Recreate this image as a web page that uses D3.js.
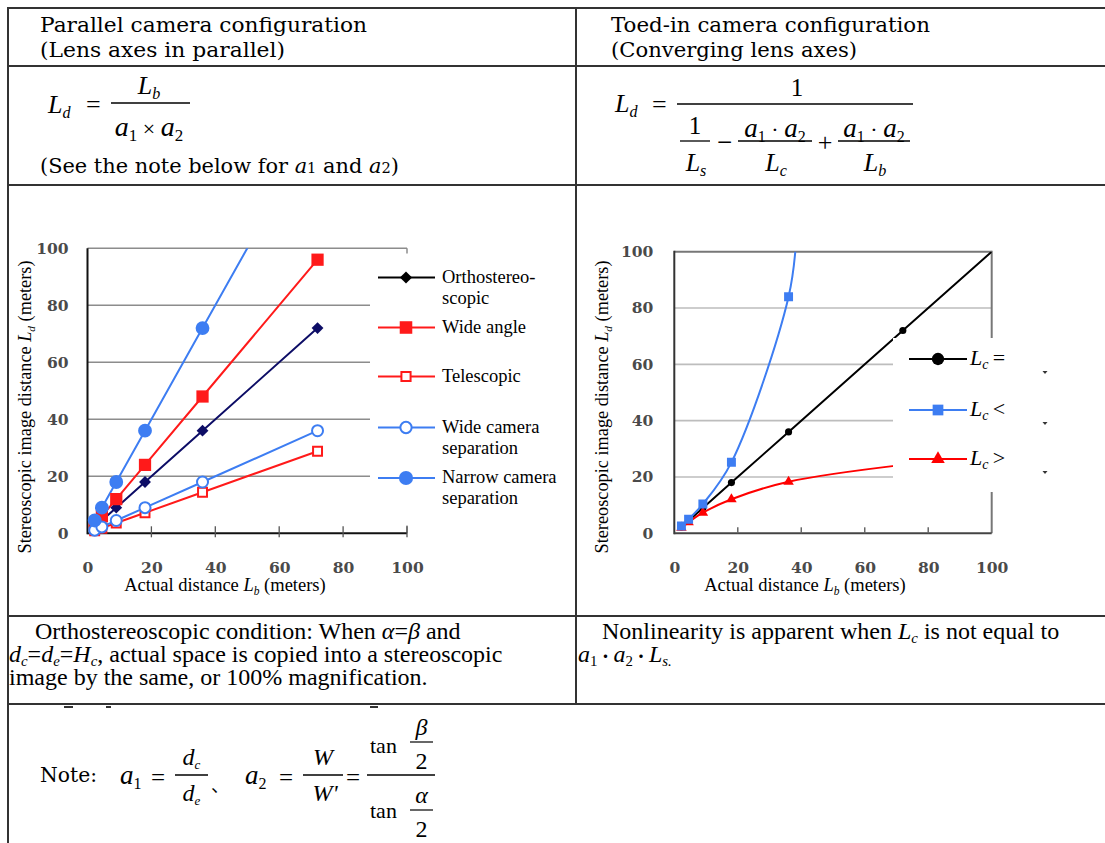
<!DOCTYPE html>
<html><head><meta charset="utf-8">
<script src="https://cdn.jsdelivr.net/npm/d3@7"></script>
<style>body{margin:0;background:#fff}svg{display:block}</style>
</head><body>
<script>
// ---------------- DATA ----------------
// Left chart (parallel configuration): actual distance Lb vs stereoscopic image distance Ld
const leftLb = [2.25, 4.5, 9, 18, 36, 72];
const orthoLd = [2.25, 4.5, 9, 18, 36, 72];
const wideAngleLd = [3, 6, 12, 24, 48, 96];
const telescopicLd = [0.9, 1.8, 3.6, 7.2, 14.4, 28.8];
const wideSepLd = [1.1, 2.25, 4.5, 9, 18, 36];
const narrowSepLd = [4.5, 9, 18, 36, 72, 144];
const leftNames = [["Orthostereo-", "scopic"], ["Wide angle"], ["Telescopic"], ["Wide camera", "separation"], ["Narrow camera", "separation"]];

// Right chart (toed-in configuration)
const lcEqualLb = [2.25, 4.5, 9, 18, 36, 72, 100];
const lcEqualLd = [2.25, 4.5, 9, 18, 36, 72, 100];
const lcEqualMarked = [true, true, true, true, true, true, false];
const lcLessLb = [2.25, 4.5, 9, 18, 36, 38.6];
const lcLessLd = [2.6, 5.0, 10.4, 25.2, 84, 108];
const lcLessMarked = [true, true, true, true, true, false];
const lcGreaterLb = [2.25, 4.5, 9, 18, 36, 72];
const lcGreaterLd = [2.0, 3.9, 7.3, 12.1, 18.3, 24.3];
const lcGreaterMarked = [true, true, true, true, true, true];
const rightNames = ["=", "<", ">"];

const axisTicks = [0, 20, 40, 60, 80, 100];
const gridTicks = [20, 40, 60, 80, 100];

// ---------------- HELPERS ----------------
const svg = d3.select("body").append("svg").attr("width", 1105).attr("height", 843);
const SERIF = "Liberation Serif, Times New Roman, serif";
const CENT = "DejaVu Serif, serif";

function rich(parent, x, y, segs, o = {}) {
  const size = o.size || 20;
  const t = parent.append("text").attr("x", x).attr("y", y)
    .attr("font-family", o.family || SERIF).attr("font-size", size)
    .attr("text-anchor", o.anchor || "start").attr("fill", "#000");
  let off = 0;
  segs.forEach(s => {
    if (typeof s === "string") s = { t: s };
    const target = s.sub ? (s.shift != null ? s.shift : size * 0.22) : 0;
    const ts = t.append("tspan").text(s.t).attr("dy", target - off);
    off = target;
    if (s.i) ts.attr("font-style", "italic");
    if (s.sub) ts.attr("font-size", s.size || size * 0.62);
    else if (s.size) ts.attr("font-size", s.size);
    if (s.family) ts.attr("font-family", s.family);
  });
  if (o.width) t.attr("textLength", o.width).attr("lengthAdjust", "spacingAndGlyphs");
  return t;
}
function hline(g, x1, x2, y, w = 1.3, c = "#000") {
  g.append("line").attr("x1", x1).attr("x2", x2).attr("y1", y).attr("y2", y).attr("stroke", c).attr("stroke-width", w);
}
function vline(g, x, y1, y2, w = 1.3, c = "#000") {
  g.append("line").attr("x1", x).attr("x2", x).attr("y1", y1).attr("y2", y2).attr("stroke", c).attr("stroke-width", w);
}

// ---------------- TABLE ----------------
const tbl = svg.append("g");
[8, 66, 185, 616, 704].forEach(y => hline(tbl, 7, 1105, y, 2, "#333"));
vline(tbl, 8, 7, 843, 2, "#333");
vline(tbl, 576, 7, 704, 2, "#333");
[[64, 9], [106, 5], [370, 8]].forEach(([x, w]) => tbl.append("rect").attr("x", x).attr("y", 706).attr("width", w).attr("height", 2).attr("fill", "#333"));

// Headers
rich(tbl, 40, 32, ["Parallel camera configuration"], { family: CENT, size: 20, width: 327 });
rich(tbl, 40, 57, ["(Lens axes in parallel)"], { family: CENT, size: 20, width: 245 });
rich(tbl, 611, 32, ["Toed-in camera configuration"], { family: CENT, size: 20, width: 319 });
rich(tbl, 611, 57, ["(Converging lens axes)"], { family: CENT, size: 20, width: 246 });

// Left formula
const fL = svg.append("g");
rich(fL, 48, 113, [{ t: "L", i: 1 }, { t: "d", i: 1, sub: 1, shift: 5 }], { size: 26 });
rich(fL, 86, 113, ["="], { size: 26 });
hline(fL, 111, 190, 103, 1.4);
rich(fL, 149, 94, [{ t: "L", i: 1 }, { t: "b", i: 1, sub: 1, shift: 5 }], { size: 26, anchor: "middle" });
rich(fL, 149, 136, [{ t: "a", i: 1, size: 28 }, { t: "1", sub: 1, shift: 5, size: 17 }, { t: " × ", size: 22 }, { t: "a", i: 1, size: 28 }, { t: "2", sub: 1, shift: 5, size: 17 }], { size: 26, anchor: "middle" });
rich(fL, 40, 173, ["(See the note below for ", { t: "a", i: 1 }, { t: "1", size: 14 }, " and ", { t: "a", i: 1 }, { t: "2", size: 14 }, ")"], { family: CENT, size: 20, width: 359 });

// Right formula
const fR = svg.append("g");
rich(fR, 615, 112, [{ t: "L", i: 1 }, { t: "d", i: 1, sub: 1, shift: 5 }], { size: 26 });
rich(fR, 652, 113, ["="], { size: 26 });
hline(fR, 677, 913, 104, 1.4);
rich(fR, 797, 96, ["1"], { size: 25, anchor: "middle" });
hline(fR, 680, 710, 141, 1.3);
rich(fR, 695, 134, ["1"], { size: 25, anchor: "middle" });
rich(fR, 696, 171, [{ t: "L", i: 1 }, { t: "s", i: 1, sub: 1, shift: 5 }], { size: 26, anchor: "middle" });
rich(fR, 724.5, 151, ["−"], { size: 27, anchor: "middle" });
hline(fR, 738, 812, 141, 1.3);
rich(fR, 775, 137, [{ t: "a", i: 1, size: 27 }, { t: "1", sub: 1, shift: 5, size: 16 }, { t: " · ", size: 22 }, { t: "a", i: 1, size: 27 }, { t: "2", sub: 1, shift: 5, size: 16 }], { size: 26, anchor: "middle" });
rich(fR, 776, 171, [{ t: "L", i: 1 }, { t: "c", i: 1, sub: 1, shift: 5 }], { size: 26, anchor: "middle" });
rich(fR, 825, 151, ["+"], { size: 26, anchor: "middle" });
hline(fR, 838, 910, 141, 1.3);
rich(fR, 874, 137, [{ t: "a", i: 1, size: 27 }, { t: "1", sub: 1, shift: 5, size: 16 }, { t: " · ", size: 22 }, { t: "a", i: 1, size: 27 }, { t: "2", sub: 1, shift: 5, size: 16 }], { size: 26, anchor: "middle" });
rich(fR, 875, 171, [{ t: "L", i: 1 }, { t: "b", i: 1, sub: 1, shift: 5 }], { size: 26, anchor: "middle" });

// Paragraphs
const pg = svg.append("g");
rich(pg, 35, 639, ["Orthostereoscopic condition: When ", { t: "α", i: 1 }, "=", { t: "β", i: 1 }, " and"], { size: 24 });
rich(pg, 9, 662, [{ t: "d", i: 1 }, { t: "c", i: 1, sub: 1, shift: 4 }, { t: "=" }, { t: "d", i: 1 }, { t: "e", i: 1, sub: 1, shift: 4 }, "=", { t: "H", i: 1 }, { t: "c", i: 1, sub: 1, shift: 4 }, ", actual space is copied into a stereoscopic"], { size: 24 });
rich(pg, 9, 685, ["image by the same, or 100% magnification."], { size: 24 });
rich(pg, 602, 639, ["Nonlinearity is apparent when ", { t: "L", i: 1 }, { t: "c", i: 1, sub: 1, shift: 4 }, " is not equal to"], { size: 24 });
rich(pg, 578, 662, [{ t: "a", i: 1 }, { t: "1", sub: 1, shift: 4 }, { t: "・", family: "Noto Sans CJK JP", size: 16 }, { t: "a", i: 1 }, { t: "2", sub: 1, shift: 4 }, { t: "・", family: "Noto Sans CJK JP", size: 16 }, { t: "L", i: 1 }, { t: "s.", i: 1, sub: 1, shift: 4 }], { size: 24 });

// Note
const nt = svg.append("g");
rich(nt, 40, 782, ["Note:"], { family: CENT, size: 20, width: 57 });
rich(nt, 120, 784, [{ t: "a", i: 1 }, { t: "1", sub: 1, shift: 5, size: 16 }], { size: 27 });
rich(nt, 151, 786, ["="], { size: 25 });
hline(nt, 175, 208, 775, 1.3);
rich(nt, 191.5, 765, [{ t: "d", i: 1 }, { t: "c", i: 1, sub: 1, shift: 4, size: 13 }], { size: 24, anchor: "middle" });
rich(nt, 191.5, 801, [{ t: "d", i: 1 }, { t: "e", i: 1, sub: 1, shift: 4, size: 13 }], { size: 24, anchor: "middle" });
rich(nt, 211, 792, ["、"], { family: "Noto Sans CJK JP", size: 18 });
rich(nt, 245, 784, [{ t: "a", i: 1 }, { t: "2", sub: 1, shift: 5, size: 16 }], { size: 27 });
rich(nt, 279, 786, ["="], { size: 25 });
hline(nt, 303, 343, 775, 1.3);
rich(nt, 323, 765, [{ t: "W", i: 1 }], { size: 24, anchor: "middle" });
rich(nt, 325, 801, [{ t: "W'", i: 1 }], { size: 24, anchor: "middle" });
rich(nt, 346, 786, ["="], { size: 25 });
hline(nt, 367, 435, 775, 1.3);
rich(nt, 370, 753, ["tan"], { size: 22 });
hline(nt, 410, 433, 742, 1.2);
rich(nt, 421.5, 735, [{ t: "β", i: 1 }], { size: 24, anchor: "middle" });
rich(nt, 421.5, 769, ["2"], { size: 24, anchor: "middle" });
rich(nt, 370, 818, ["tan"], { size: 22 });
hline(nt, 410, 433, 810, 1.2);
rich(nt, 421.5, 803, [{ t: "α", i: 1 }], { size: 24, anchor: "middle" });
rich(nt, 421.5, 837, ["2"], { size: 24, anchor: "middle" });

// ---------------- LEFT CHART ----------------
const xL = d3.scaleLinear().domain([0, 100]).range([87.5, 407]);
const yL = d3.scaleLinear().domain([0, 100]).range([533.3, 248.3]);
const cl = svg.append("g");
svg.append("clipPath").attr("id", "clipL").append("rect")
  .attr("x", xL(0)).attr("y", yL(100)).attr("width", xL(100) - xL(0)).attr("height", yL(0) - yL(100));

cl.selectAll(".gl").data(gridTicks).join("line")
  .attr("x1", xL(0)).attr("x2", xL(100)).attr("y1", d => yL(d)).attr("y2", d => yL(d))
  .attr("stroke", "#8c8c8c").attr("stroke-width", 1.5);
vline(cl, xL(100), yL(100), yL(0), 1.5, "#8c8c8c");
vline(cl, xL(0), yL(100), yL(0) + 1, 2, "#111");
hline(cl, xL(0), xL(100), yL(0), 2, "#111");
cl.selectAll(".tk").data(axisTicks.slice(1)).join("line")
  .attr("x1", d => xL(d)).attr("x2", d => xL(d)).attr("y1", yL(0) - 7).attr("y2", yL(0) + 4)
  .attr("stroke", "#555").attr("stroke-width", 1.3);

const axL = cl.append("g").attr("transform", `translate(0,${yL(0)})`)
  .call(d3.axisBottom(xL).tickValues(axisTicks).tickSize(0).tickPadding(28.5));
const ayL = cl.append("g").attr("transform", `translate(${xL(0)},0)`)
  .call(d3.axisLeft(yL).tickValues(axisTicks).tickSize(0).tickPadding(19));
[axL, ayL].forEach(a => {
  a.select(".domain").remove();
  a.selectAll("text").attr("font-family", CENT).attr("font-size", 15.5).attr("font-weight", "bold").attr("fill", "#4a4a4a");
});

const leftSeries = [
  { vals: orthoLd, color: "#0d0d66", legendColor: "#000", sym: "diamond", fill: true },
  { vals: wideAngleLd, color: "#ff1a1a", legendColor: "#ff1a1a", sym: "square", fill: true },
  { vals: telescopicLd, color: "#ff1a1a", legendColor: "#ff1a1a", sym: "square", fill: false },
  { vals: wideSepLd, color: "#3d7df2", legendColor: "#3d7df2", sym: "circle", fill: false },
  { vals: narrowSepLd, color: "#3d7df2", legendColor: "#3d7df2", sym: "circle", fill: true },
];
function leftSym(s, scale = 1) {
  if (s.sym === "diamond") return d3.symbol(d3.symbolSquare, 70 * scale)();
  if (s.sym === "square") return d3.symbol(d3.symbolSquare, (s.fill ? 150 : 80) * scale)();
  return d3.symbol(d3.symbolCircle, (s.fill ? 150 : 95) * scale)();
}
const lineL = d3.line().x(d => xL(d[0])).y(d => yL(d[1]));
const plotL = cl.append("g").attr("clip-path", "url(#clipL)");
leftSeries.forEach(s => {
  const pts = leftLb.map((x, i) => [x, s.vals[i]]);
  plotL.append("path").attr("d", lineL(pts)).attr("fill", "none").attr("stroke", s.color).attr("stroke-width", 2);
});
leftSeries.forEach(s => {
  const pts = leftLb.map((x, i) => [x, s.vals[i]]).filter(d => d[1] <= 100);
  cl.selectAll(null).data(pts).join("path")
    .attr("d", leftSym(s))
    .attr("transform", d => `translate(${xL(d[0])},${yL(d[1])})` + (s.sym === "diamond" ? " rotate(45)" : ""))
    .attr("fill", s.fill ? s.color : "#fff").attr("stroke", s.color).attr("stroke-width", s.fill ? 0 : 2);
});
// Legend
cl.append("rect").attr("x", 370).attr("y", 253.5).attr("width", 200).attr("height", 272).attr("fill", "#fff");
const legYL = [277.5, 327.5, 376.5, 427.5, 478];
leftSeries.forEach((s, i) => {
  const y = legYL[i];
  hline(cl, 378, 435, y, 2, s.legendColor);
  cl.append("path").attr("d", leftSym(s, 1.05))
    .attr("transform", `translate(406,${y})` + (s.sym === "diamond" ? " rotate(45)" : ""))
    .attr("fill", s.fill ? s.legendColor : "#fff").attr("stroke", s.legendColor).attr("stroke-width", s.fill ? 0 : 2);
  leftNames[i].forEach((ln, j) => rich(cl, 442, y + 5 + j * 21, [ln], { size: 18.5 }));
});
// Axis titles
rich(cl, 225, 591, ["Actual distance ", { t: "L", i: 1 }, { t: "b", i: 1, sub: 1, shift: 4 }, { t: " (meters)" }], { size: 18.5, anchor: "middle" });
rich(cl.append("g").attr("transform", "translate(31,407) rotate(-90)"), 0, 0,
  ["Stereoscopic image distance ", { t: "L", i: 1 }, { t: "d", i: 1, sub: 1, shift: 4 }, " (meters)"], { size: 18.3, anchor: "middle" });

// ---------------- RIGHT CHART ----------------
const xR = d3.scaleLinear().domain([0, 100]).range([674.3, 991.7]);
const yR = d3.scaleLinear().domain([0, 100]).range([533.3, 251.7]);
const cr = svg.append("g");
svg.append("clipPath").attr("id", "clipR").append("rect")
  .attr("x", xR(0)).attr("y", yR(100)).attr("width", xR(100) - xR(0)).attr("height", yR(0) - yR(100));
cr.selectAll(".gl").data(gridTicks.slice(0, 4)).join("line")
  .attr("x1", xR(0)).attr("x2", xR(100)).attr("y1", d => yR(d)).attr("y2", d => yR(d))
  .attr("stroke", "#bdbdbd").attr("stroke-width", 1.6);
hline(cr, xR(0), xR(100), yR(100), 2, "#777");
vline(cr, xR(100), yR(100) - 1, yR(0), 2, "#777");
vline(cr, xR(0), yR(100) - 1, yR(0) + 1, 2, "#333");
hline(cr, xR(0), xR(100), yR(0), 2, "#444");
cr.selectAll(".tk").data(axisTicks.slice(1, 5)).join("line")
  .attr("x1", d => xR(d)).attr("x2", d => xR(d)).attr("y1", yR(0) - 6).attr("y2", yR(0))
  .attr("stroke", "#666").attr("stroke-width", 1.5);
const axR = cr.append("g").attr("transform", `translate(0,${yR(0)})`)
  .call(d3.axisBottom(xR).tickValues(axisTicks).tickSize(0).tickPadding(28.5));
const ayR = cr.append("g").attr("transform", `translate(${xR(0)},0)`)
  .call(d3.axisLeft(yR).tickValues(axisTicks).tickSize(0).tickPadding(21));
[axR, ayR].forEach(a => {
  a.select(".domain").remove();
  a.selectAll("text").attr("font-family", CENT).attr("font-size", 15.5).attr("font-weight", "bold").attr("fill", "#4a4a4a");
});
const rightSeries = [
  { lb: lcEqualLb, ld: lcEqualLd, mk: lcEqualMarked, color: "#000", sym: d3.symbolCircle, size: 40, lsize: 120 },
  { lb: lcGreaterLb, ld: lcGreaterLd, mk: lcGreaterMarked, color: "#ff0000", sym: d3.symbolTriangle, size: 48, lsize: 80 },
  { lb: lcLessLb, ld: lcLessLd, mk: lcLessMarked, color: "#3d7df2", sym: d3.symbolSquare, size: 80, lsize: 115 },
];
const lineR = d3.line().x(d => xR(d[0])).y(d => yR(d[1])).curve(d3.curveCatmullRom.alpha(0.5));
const plotR = cr.append("g").attr("clip-path", "url(#clipR)");
rightSeries.forEach(s => {
  const pts = s.lb.map((x, i) => [x, s.ld[i], s.mk[i]]);
  plotR.append("path").attr("d", lineR(pts)).attr("fill", "none").attr("stroke", s.color).attr("stroke-width", 2);
  plotR.selectAll(null).data(pts.filter(d => d[2])).join("path")
    .attr("d", d3.symbol(s.sym, s.size)())
    .attr("transform", d => `translate(${xR(d[0])},${yR(d[1])})`)
    .attr("fill", s.color);
});
// Legend
cr.append("rect").attr("x", 893).attr("y", 338).attr("width", 175).attr("height", 154).attr("fill", "#fff");
const legOrder = [0, 2, 1];
const legYR = [359, 410, 459];
legOrder.forEach((si, i) => {
  const s = rightSeries[si], y = legYR[i];
  hline(cr, 909, 967, y, 2, s.color);
  cr.append("path").attr("d", d3.symbol(s.sym, s.lsize)()).attr("transform", `translate(938,${y})`).attr("fill", s.color);
  rich(cr, 970, y + 6, [{ t: "L", i: 1 }, { t: "c", i: 1, sub: 1, shift: 4, size: 14 }, { t: "\u2009" + rightNames[i] }], { size: 22 });
  cr.append("path").attr("d", `M1042.5,${y + 12}h5l-2.5,3z`).attr("fill", "#333");
});
rich(cr, 805, 591, ["Actual distance ", { t: "L", i: 1 }, { t: "b", i: 1, sub: 1, shift: 4 }, { t: " (meters)" }], { size: 18.5, anchor: "middle" });
rich(cr.append("g").attr("transform", "translate(608,407) rotate(-90)"), 0, 0,
  ["Stereoscopic image distance ", { t: "L", i: 1 }, { t: "d", i: 1, sub: 1, shift: 4 }, " (meters)"], { size: 18.3, anchor: "middle" });
</script>
</body></html>
